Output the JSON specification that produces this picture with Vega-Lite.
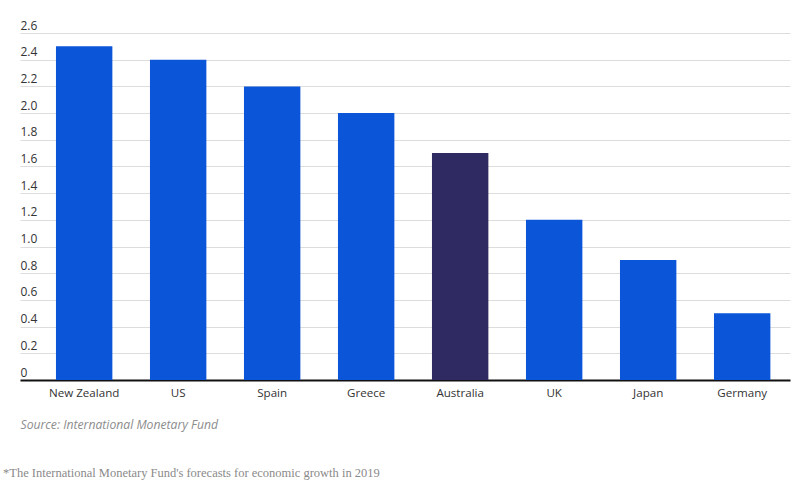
{
  "$schema": "https://vega.github.io/schema/vega-lite/v6.json",
  "width": 770,
  "height": 347,
  "autosize": {"type": "none"},
  "padding": {"left": 20, "top": 33, "right": 11, "bottom": 102},
  "background": "white",
  "data": {
    "values": [
      {"country": "New Zealand", "growth": 2.5},
      {"country": "US", "growth": 2.4},
      {"country": "Spain", "growth": 2.2},
      {"country": "Greece", "growth": 2.0},
      {"country": "Australia", "growth": 1.7},
      {"country": "UK", "growth": 1.2},
      {"country": "Japan", "growth": 0.9},
      {"country": "Germany", "growth": 0.5}
    ]
  },
  "title": {
    "text": "*The International Monetary Fund's forecasts for economic growth in 2019",
    "orient": "bottom",
    "anchor": "start",
    "frame": "group",
    "dx": -17,
    "offset": 37,
    "font": "Liberation Serif",
    "fontSize": 12.5,
    "fontWeight": "normal",
    "color": "#8a8a8a"
  },
  "mark": {"type": "bar"},
  "encoding": {
    "x": {
      "field": "country",
      "type": "nominal",
      "sort": null,
      "scale": {"paddingInner": 0.4, "paddingOuter": 0.2957, "align": 0.647},
      "axis": {
        "title": "Source: International Monetary Fund",
        "titleFont": "Open Sans",
        "titleFontStyle": "italic",
        "titleFontWeight": "normal",
        "titleFontSize": 12.2,
        "titleColor": "#8c8c8c",
        "titleAnchor": "start",
        "titleAlign": "left",
        "titleBaseline": "alphabetic",
        "titleX": 0,
        "titleY": 48,
        "labelAngle": 0,
        "labelFont": "Open Sans",
        "labelFontSize": 11.6,
        "labelColor": "#333333",
        "labelPadding": 7,
        "ticks": false,
        "domainColor": "#111111",
        "domainWidth": 2
      }
    },
    "y": {
      "field": "growth",
      "type": "quantitative",
      "scale": {"domain": [0, 2.6], "nice": false},
      "axis": {
        "title": null,
        "values": [0, 0.2, 0.4, 0.6, 0.8, 1.0, 1.2, 1.4, 1.6, 1.8, 2.0, 2.2, 2.4, 2.6],
        "labelExpr": "datum.value === 0 ? '0' : format(datum.value, '.1f')",
        "labelAlign": "left",
        "labelBaseline": "alphabetic",
        "labelOffset": -4,
        "labelPadding": 0,
        "ticks": false,
        "tickSize": 0,
        "domain": false,
        "labelFont": "Open Sans",
        "labelFontSize": 12,
        "labelColor": "#333333",
        "gridColor": "#dddddd",
        "gridWidth": 1
      }
    },
    "color": {
      "condition": {"test": "datum.country === 'Australia'", "value": "#2f2a61"},
      "value": "#0b55d8"
    }
  },
  "config": {"view": {"stroke": null}}
}
